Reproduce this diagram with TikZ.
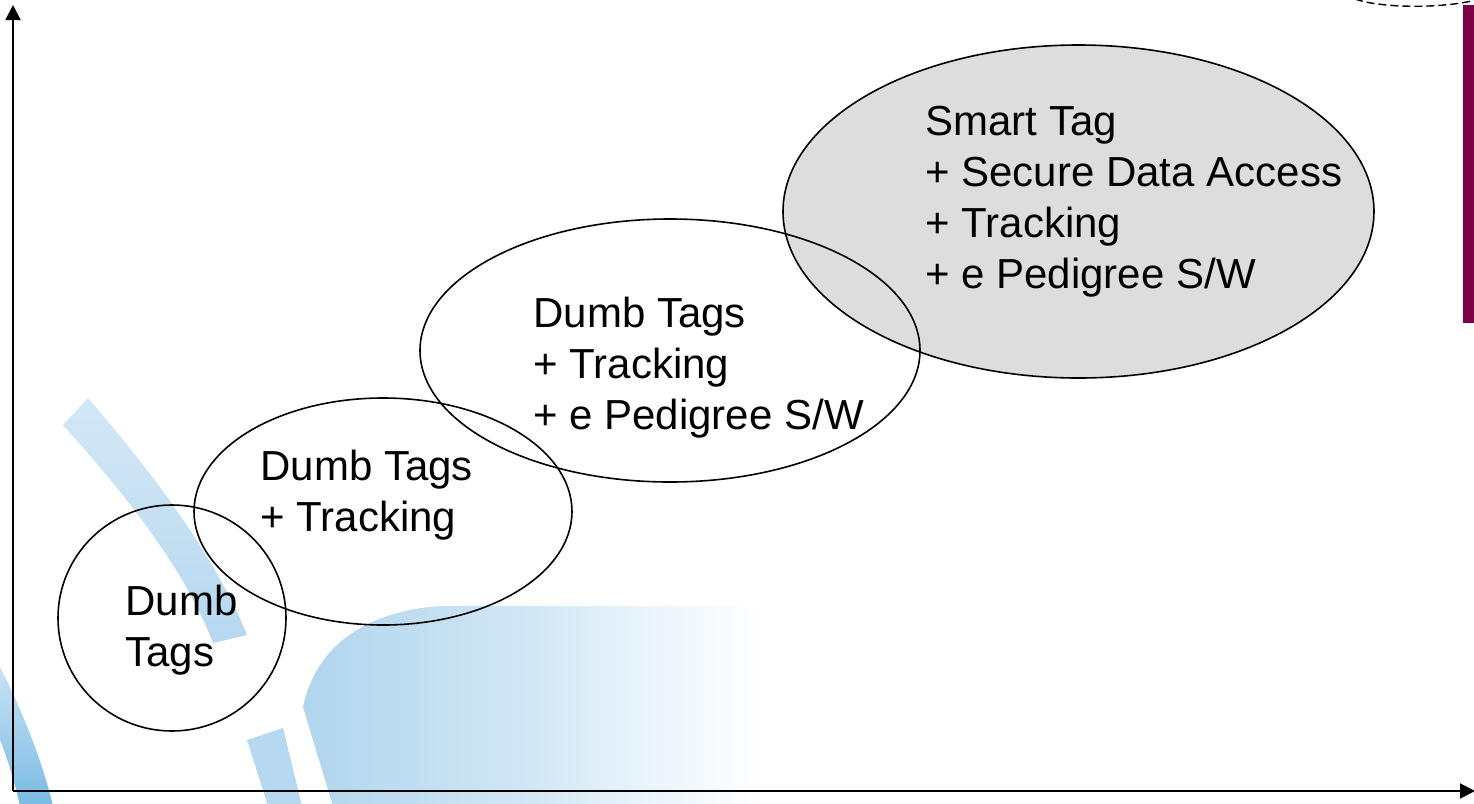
\documentclass[tikz,border=0pt]{standalone}
\usepackage{fontspec}
\setmainfont{Liberation Sans}
\usetikzlibrary{shapes.geometric,arrows.meta}
\definecolor{stripeblue}{RGB}{182,216,240}
\definecolor{bandblue}{RGB}{120,186,228}
\definecolor{blobblue}{RGB}{176,213,237}
\definecolor{taggrey}{RGB}{221,221,221}
\definecolor{maroon}{RGB}{123,0,70}
\pgfdeclarehorizontalshading{blobfade}{100bp}{color(0bp)=(blobblue); color(25bp)=(blobblue); color(42bp)=(blobblue!55); color(50bp)=(blobblue!25); color(58bp)=(white); color(100bp)=(white)}
\tikzset{
  tagshape/.style={ellipse, draw=black, line width=0.8pt, inner sep=0pt},
  tagtext/.style={anchor=base west, inner sep=0pt, font=\fontsize{21}{25.6}\selectfont},
  axis/.style={line width=1pt, -{Triangle[length=7.5pt,width=7.5pt]}},
}
\newcommand{\taglines}[1]{\begin{tabular}[t]{@{}l@{}}#1\end{tabular}}
\begin{document}
\begin{tikzpicture}[x=0.5pt,y=-0.5pt]
\useasboundingbox (0,0) rectangle (1474,804);
\clip (0,0) rectangle (1474,804);
% background decoration
\shade[top color=stripeblue!60, bottom color=stripeblue] (63,425) .. controls (130,500) and (185,570) .. (213,643) -- (247,635) .. controls (215,555) and (150,470) .. (88,398) -- cycle;
\shade[top color=bandblue!40, bottom color=bandblue] (0,667) .. controls (22,710) and (42,760) .. (53,806) -- (20,806) .. controls (14,780) and (8,760) .. (0,740) -- cycle;
\fill[stripeblue] (247,740) -- (283,728) -- (302,806) -- (268,806) -- cycle;
\shade[shading=blobfade] (303,707) .. controls (315,650) and (360,612) .. (440,606) -- (800,606) -- (1000,806) -- (333,806) -- cycle;
% dashed outline top right and maroon bar
\draw[line width=0.7pt, dash pattern=on 4pt off 2pt] (1355,-1) .. controls (1380,8) and (1440,9) .. (1476,0);
\fill[maroon] (1463,5) rectangle (1474,323);
% ellipses
\node[tagshape, fill=taggrey, minimum width=295.5pt, minimum height=166.5pt] (e4) at (1078.5,211.5) {};
\node[tagshape, minimum width=250pt, minimum height=131.5pt] (e3) at (670,350.5) {};
\node[tagshape, minimum width=189pt, minimum height=113.5pt] (e2) at (383,511.5) {};
\node[tagshape, minimum width=114pt, minimum height=113pt] (e1) at (172,618) {};
% texts
\node[tagtext] (t4) at (925,135) {\taglines{Smart Tag\\+ Secure Data Access\\+ Tracking\\+ e Pedigree S/W}};
\node[tagtext] (t3) at (533,327) {\taglines{Dumb Tags\\+ Tracking\\+ e Pedigree S/W}};
\node[tagtext] (t2) at (260,480) {\taglines{Dumb Tags\\+ Tracking}};
\node[tagtext] (t1) at (125,615) {\taglines{Dumb\\Tags}};
% axes
\coordinate (origin) at (13,791);
\coordinate (ytop) at (13,5);
\coordinate (xend) at (1475,791);
\draw[axis] (origin) -- (ytop);
\draw[axis] (origin) -- (xend);
\end{tikzpicture}
\end{document}
